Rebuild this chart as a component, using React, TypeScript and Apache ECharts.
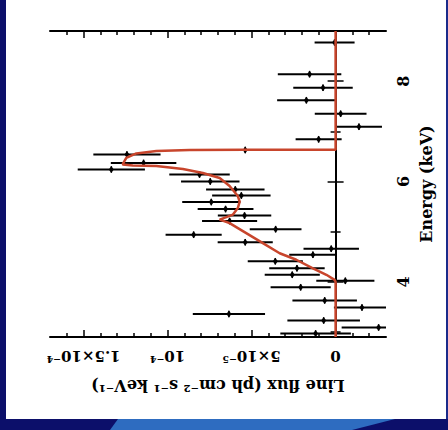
import React, { useEffect, useRef } from "react";
import * as echarts from "echarts";

// Observed line flux (units of 1e-5 ph cm^-2 s^-1 keV^-1) vs energy (keV)
const energy = [8.77, 8.14, 7.87, 7.62, 7.35, 7.09, 6.84, 6.63, 6.54, 6.37, 6.24, 6.14, 6.0, 5.84, 5.72, 5.59, 5.45, 5.32, 5.21, 5.05, 4.94, 4.79, 4.66, 4.54, 4.41, 4.27, 4.14, 4.02, 3.89, 3.63, 3.49, 3.36, 3.23, 3.09, 2.97];
const flux = [0.06, 1.55, 0.75, 1.74, -0.3, -1.39, 1.01, 5.38, 12.42, 11.43, 13.35, 8.1, 7.46, 5.97, 5.61, 7.4, 6.55, 5.42, 6.31, 3.57, 8.45, 5.38, 0.26, 1.35, 3.59, 2.3, 2.58, -0.58, 2.08, 0.65, -1.57, 6.35, 0.71, -2.56, 1.19];
const fluxErr = [1.19, 1.89, 1.77, 1.74, 1.54, 1.37, 1.37, 2.0, 2.0, 1.95, 2.0, 1.8, 1.74, 1.74, 1.74, 1.73, 1.66, 1.59, 1.64, 1.54, 1.67, 1.64, 1.65, 1.41, 1.64, 1.65, 1.64, 1.73, 1.79, 1.92, 1.67, 2.15, 2.16, 2.2, 2.1];
const ENERGY_HALF_BIN = 0.065;

// Model curve (flux, energy)
const modelFlux = [0, 0, 0.06, 0.55, 1.35, 2.34, 3.33, 4.33, 5.32, 6.31, 6.9, 6.11, 5.82, 5.71, 5.82, 6.31, 6.9, 7.9, 9.09, 10.67, 12.07, 12.68, 12.46, 11.86, 10.67, 8.69, 5.38, 0, 0];
const modelEnergy = [2.9, 4.0, 4.04, 4.14, 4.27, 4.44, 4.57, 4.77, 4.97, 5.17, 5.24, 5.34, 5.47, 5.6, 5.71, 5.91, 6.07, 6.17, 6.25, 6.31, 6.32, 6.34, 6.47, 6.56, 6.61, 6.63, 6.635, 6.635, 9.0];

const fluxLabels = [0, 5, 10, 15];
const fluxLabelText: Record<number, string> = { 0: "0", 5: "5×10⁻⁵", 10: "10⁻⁴", 15: "1.5×10⁻⁴" };
const fluxMinorTicks = [-2, -1, 1, 2, 3, 4, 6, 7, 8, 9, 11, 12, 13, 14, 16];
const energyLabels = [4, 6, 8];
const energyMinorTicks = [3, 5, 7];

const FONT = "DejaVu Serif";

export default function App() {
  const ref = useRef<HTMLDivElement>(null);
  useEffect(() => {
    const chart = echarts.init(ref.current!, null, { renderer: "svg" });
    const axisLine = { show: true, lineStyle: { color: "#000", width: 2 } };
    const tickStyle = { color: "#000", width: 1.5 };
    const xBase = {
      type: "value",
      min: -3,
      max: 17,
      inverse: true,
      splitLine: { show: false },
    };
    const yBase = {
      type: "value",
      min: 2.9,
      max: 9.0,
      splitLine: { show: false },
    };
    const option: any = {
      animation: false,
      backgroundColor: "#ffffff",
      grid: { left: 50, right: 62, top: 31, bottom: 93, containLabel: false },
      xAxis: [
        {
          ...xBase,
          position: "bottom",
          axisLine,
          axisTick: { show: true, inside: true, length: 7, customValues: fluxLabels, lineStyle: tickStyle },
          axisLabel: {
            show: true,
            customValues: fluxLabels,
            rotate: 180,
            margin: 11,
            color: "#000",
            fontFamily: FONT,
            fontWeight: "bold",
            fontSize: 15,
            formatter: (v: number) => fluxLabelText[Math.round(v)] ?? "",
          },
          name: "Line flux (ph cm⁻² s⁻¹ keV⁻¹)",
          nameLocation: "middle",
          nameRotate: 180,
          nameGap: 40,
          nameTextStyle: { color: "#000", fontFamily: FONT, fontWeight: "bold", fontSize: 16 },
        },
        {
          ...xBase,
          position: "bottom",
          axisLine: { show: false },
          axisTick: { show: true, inside: true, length: 4, customValues: fluxMinorTicks, lineStyle: tickStyle },
          axisLabel: { show: false },
        },
        {
          ...xBase,
          position: "top",
          axisLine,
          axisTick: { show: true, inside: true, length: 7, customValues: fluxLabels, lineStyle: tickStyle },
          axisLabel: { show: false },
        },
        {
          ...xBase,
          position: "top",
          axisLine: { show: false },
          axisTick: { show: true, inside: true, length: 4, customValues: fluxMinorTicks, lineStyle: tickStyle },
          axisLabel: { show: false },
        },
      ],
      yAxis: [
        {
          ...yBase,
          position: "right",
          axisLine,
          axisTick: { show: true, inside: true, length: 8, customValues: energyLabels, lineStyle: tickStyle },
          axisLabel: {
            show: true,
            customValues: energyLabels,
            rotate: 90,
            margin: 9,
            color: "#000",
            fontFamily: FONT,
            fontWeight: "bold",
            fontSize: 16,
          },
          name: "Energy (keV)",
          nameLocation: "middle",
          nameRotate: 90,
          nameGap: 30,
          nameTextStyle: { color: "#000", fontFamily: FONT, fontWeight: "bold", fontSize: 16 },
        },
        {
          ...yBase,
          position: "right",
          axisLine: { show: false },
          axisTick: { show: true, inside: true, length: 5, customValues: energyMinorTicks, lineStyle: tickStyle },
          axisLabel: { show: false },
        },
        {
          ...yBase,
          position: "left",
          axisLine,
          axisTick: { show: true, inside: true, length: 8, customValues: energyLabels, lineStyle: tickStyle },
          axisLabel: { show: false },
        },
        {
          ...yBase,
          position: "left",
          axisLine: { show: false },
          axisTick: { show: true, inside: true, length: 5, customValues: energyMinorTicks, lineStyle: tickStyle },
          axisLabel: { show: false },
        },
      ],
      series: [
        {
          type: "custom",
          xAxisIndex: 0,
          yAxisIndex: 0,
          clip: true,
          encode: { x: 0, y: 1 },
          data: energy.map((e, i) => [flux[i], e, fluxErr[i]]),
          renderItem: (params: any, api: any) => {
            const f = api.value(0);
            const e = api.value(1);
            const err = api.value(2);
            const pL = api.coord([f - err, e]);
            const pR = api.coord([f + err, e]);
            const pT = api.coord([f, e + ENERGY_HALF_BIN]);
            const pB = api.coord([f, e - ENERGY_HALF_BIN]);
            const c = api.coord([f, e]);
            return {
              type: "group",
              children: [
                { type: "line", shape: { x1: pL[0], y1: pL[1], x2: pR[0], y2: pR[1] }, style: { stroke: "#000", lineWidth: 2 } },
                { type: "line", shape: { x1: pT[0], y1: pT[1], x2: pB[0], y2: pB[1] }, style: { stroke: "#000", lineWidth: 1.5 } },
                {
                  type: "polygon",
                  shape: { points: [[c[0], c[1] - 3.5], [c[0] + 2.5, c[1]], [c[0], c[1] + 3.5], [c[0] - 2.5, c[1]]] },
                  style: { fill: "#000" },
                },
              ],
            };
          },
          z: 2,
        },
        {
          type: "line",
          xAxisIndex: 0,
          yAxisIndex: 0,
          data: modelFlux.map((f, i) => [f, modelEnergy[i]]),
          showSymbol: false,
          symbol: "none",
          smooth: false,
          lineStyle: { color: "#c8452c", width: 2.5 },
          z: 3,
        },
      ],
      graphic: [
        { type: "rect", shape: { x: 0, y: 0, width: 6, height: 430 }, style: { fill: "#0c0f6a" }, silent: true },
        { type: "rect", shape: { x: 446, y: 0, width: 2, height: 430 }, style: { fill: "#1a2a8a" }, silent: true },
        { type: "rect", shape: { x: 0, y: 419, width: 448, height: 11 }, style: { fill: "#0c0f6a" }, silent: true },
        {
          type: "polygon",
          shape: { points: [[118, 419], [395, 419], [352, 430], [110, 430]] },
          style: { fill: "#2e6cc0" },
          silent: true,
        },
      ],
    };
    chart.setOption(option);
    return () => chart.dispose();
  }, []);
  return <div ref={ref} style={{ position: "absolute", left: 0, top: 0, width: 448, height: 430 }} />;
}
